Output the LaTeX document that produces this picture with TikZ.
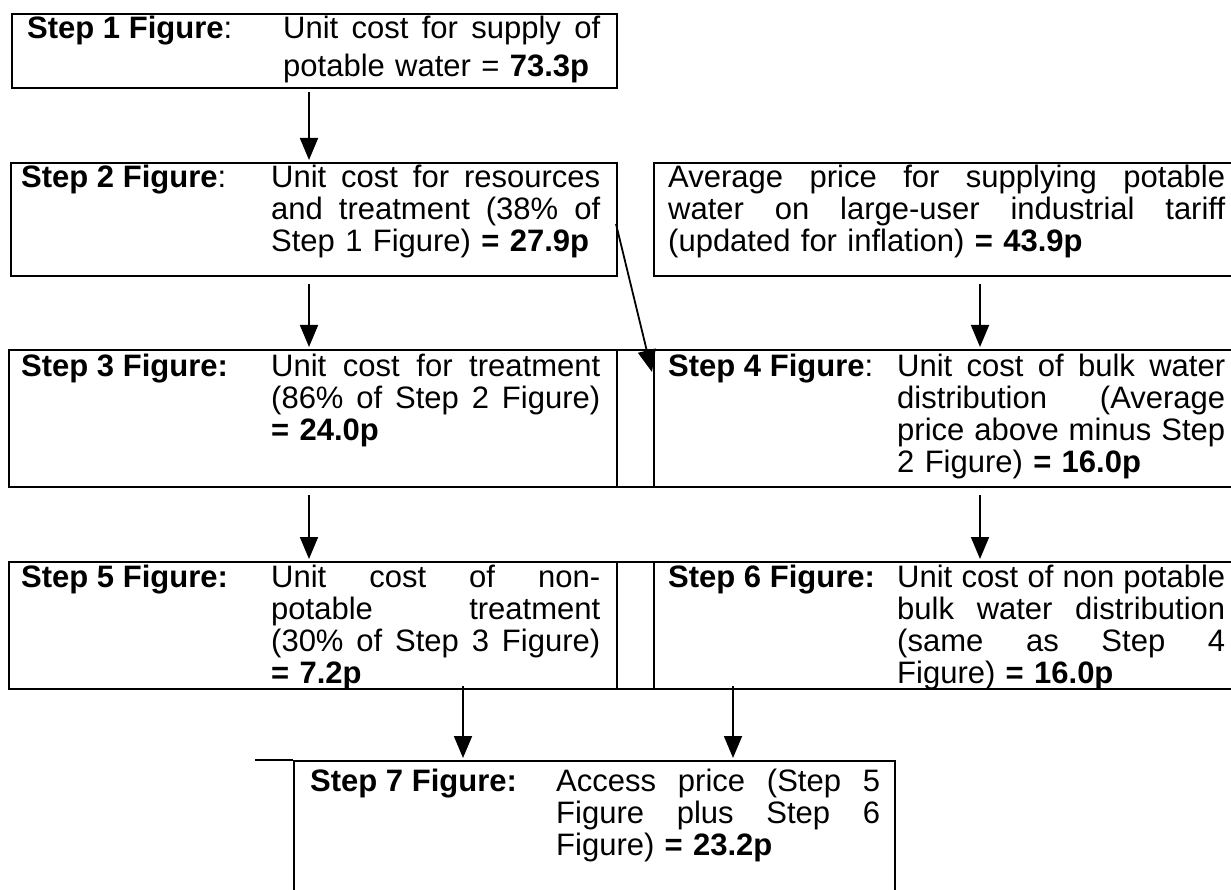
\documentclass[tikz,border=0pt]{standalone}
\usepackage{fontspec}
\setmainfont{Liberation Sans}
\usetikzlibrary{arrows.meta}
\newcommand\jl[2]{\leavevmode\hbox to #1{\spaceskip=.278em plus 1fil minus .08em\relax #2}}
\begin{document}
\begin{tikzpicture}[x=1pt,y=-1pt,
  box/.style={draw,line width=2.4pt,rectangle,inner sep=0pt,anchor=north west},
  conn/.style={line width=1.8pt,-{Triangle[width=18pt,length=22pt]}},
  lab/.style={anchor=base west,inner sep=0pt,font=\fontsize{31}{32}\selectfont},
  txt/.style={anchor=base west,inner sep=0pt,align=left,font=\fontsize{31}{32}\selectfont},
]
\useasboundingbox (0,0) rectangle (1231,890);
\begin{scope}
\clip (0,0) rectangle (1231,890);
% boxes
\node[box,minimum width=605pt,minimum height=74pt] (b1) at (11,13) {};
\node[box,minimum width=606pt,minimum height=113pt] (b2) at (10,162) {};
\node[box,minimum width=600pt,minimum height=113pt] (b2r) at (653,162) {};
\node[box,minimum width=608pt,minimum height=137pt] (b3) at (8,349) {};
\node[box,minimum width=37pt,minimum height=137pt] (g3) at (616,349) {};
\node[box,minimum width=600pt,minimum height=137pt] (b4) at (653,349) {};
\node[box,minimum width=608pt,minimum height=127pt] (b5) at (8,561) {};
\node[box,minimum width=37pt,minimum height=127pt] (g5) at (616,561) {};
\node[box,minimum width=600pt,minimum height=127pt] (b6) at (653,561) {};
\node[box,minimum width=601pt,minimum height=160pt] (b7) at (293,760) {};
\coordinate (c7l) at (255,760);
\draw[line width=2.4pt] (c7l) -- (b7.north west);
% texts
\node[lab] (l1) at (27,39) {\textbf{Step 1 Figure}:};
\node[txt,text width=330pt,font=\fontsize{31}{38}\selectfont] (t1) at (283,39) {\jl{317pt}{Unit cost for supply of}\\potable water = \textbf{73.3p}};
\node[lab] (l2) at (21,188) {\textbf{Step 2 Figure}:};
\node[txt,text width=340pt] (t2) at (271,188) {\jl{329pt}{Unit cost for resources}\\\jl{329pt}{and treatment (38\% of}\\Step 1 Figure) \textbf{= 27.9p}};
\node[txt,text width=570pt] (t2r) at (668,188) {\jl{557pt}{Average price for supplying potable}\\\jl{557pt}{water on large-user industrial tariff}\\(updated for inflation) \textbf{= 43.9p}};
\node[lab] (l3) at (21,377) {\textbf{Step 3 Figure:}};
\node[txt,text width=340pt] (t3) at (271,377) {\jl{329pt}{Unit cost for treatment}\\\jl{329pt}{(86\% of Step 2 Figure)}\\\textbf{= 24.0p}};
\node[lab] (l4) at (668,377) {\textbf{Step 4 Figure}:};
\node[txt,text width=340pt] (t4) at (897,377) {\jl{328pt}{Unit cost of bulk water}\\\jl{328pt}{distribution (Average}\\\jl{328pt}{price above minus Step}\\2 Figure) \textbf{= 16.0p}};
\node[lab] (l5) at (21,587) {\textbf{Step 5 Figure:}};
\node[txt,text width=340pt] (t5) at (271,587) {\jl{329pt}{Unit cost of non-}\\\jl{329pt}{potable treatment}\\\jl{329pt}{(30\% of Step 3 Figure)}\\\textbf{= 7.2p}};
\node[lab] (l6) at (668,587) {\textbf{Step 6 Figure:}};
\node[txt,text width=340pt] (t6) at (897,587) {\jl{328pt}{Unit cost of non potable}\\\jl{328pt}{bulk water distribution}\\\jl{328pt}{(same as Step 4}\\Figure) \textbf{= 16.0p}};
\node[lab] (l7) at (310,791) {\textbf{Step 7 Figure:}};
\node[txt,text width=335pt] (t7) at (556,791) {\jl{324pt}{Access price (Step 5}\\\jl{324pt}{Figure plus Step 6}\\Figure) \textbf{= 23.2p}};
% connectors
\coordinate (a1s) at (309,92);   \coordinate (a1e) at (309,160);
\coordinate (a2s) at (309,284);  \coordinate (a2e) at (309,347);
\coordinate (a3s) at (980,284);  \coordinate (a3e) at (980,347);
\coordinate (a4s) at (309,495);  \coordinate (a4e) at (309,559);
\coordinate (a5s) at (980,495);  \coordinate (a5e) at (980,559);
\coordinate (a6s) at (463,686);  \coordinate (a6e) at (463,758);
\coordinate (a7s) at (733,686);  \coordinate (a7e) at (733,758);
\coordinate (dgs) at (616,224);  \coordinate (dge) at (652,372);
\draw[conn] (a1s) -- (a1e);
\draw[conn] (a2s) -- (a2e);
\draw[conn] (a3s) -- (a3e);
\draw[conn] (a4s) -- (a4e);
\draw[conn] (a5s) -- (a5e);
\draw[conn] (a6s) -- (a6e);
\draw[conn] (a7s) -- (a7e);
\draw[conn] (dgs) -- (dge);
\end{scope}
\end{tikzpicture}
\end{document}
